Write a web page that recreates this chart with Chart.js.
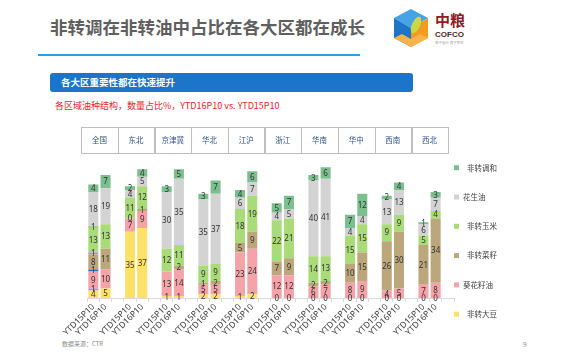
<!DOCTYPE html>
<html><head><meta charset="utf-8">
<script src="https://cdn.jsdelivr.net/npm/chart.js@4/dist/chart.umd.min.js"></script>
<style>
html,body{margin:0;padding:0;}
body{width:570px;height:360px;background:#fff;position:relative;overflow:hidden;font-family:"Noto Sans CJK SC","Noto Sans",sans-serif;}
.abs{position:absolute;white-space:nowrap;}
#title{left:50px;top:16px;font-size:17.5px;line-height:22px;font-weight:700;color:#5f5f5f;}
#rule{left:38px;top:54px;width:322px;height:2px;background:#2D9FD9;}
#banner{left:50px;top:73px;width:352px;height:19px;background:#1C75C8;border-radius:3px;color:#fff;font-weight:700;font-size:9.5px;line-height:19px;padding-left:11px;}
#sub{left:55px;top:99px;font-size:9px;line-height:14px;color:#E52326;}
#src{left:62px;top:340px;font-size:6px;line-height:8px;color:#8c8c8c;}
#pg{left:523px;top:340px;font-size:6.5px;line-height:8px;color:#8c8c8c;}
#zl{left:435px;top:11px;font-size:15px;line-height:18px;font-weight:700;color:#8C1D22;}
#cofco{left:435px;top:30px;font-size:8px;line-height:10px;font-weight:700;color:#4a2a2a;font-family:"Liberation Sans",sans-serif;}
#tag{left:435px;top:41px;font-size:3.5px;line-height:4px;color:#999;}
#logo{position:absolute;left:392px;top:8px;}
#wrap{position:absolute;left:0;top:0;width:570px;height:360px;}
</style></head><body>
<div id="title" class="abs">非转调在非转油中占比在各大区都在成长</div>
<div id="rule" class="abs"></div>
<svg id="logo" width="40" height="40" viewBox="0 0 40 40">
  <polygon points="19,1 36,10 19,20 2,10" fill="#46A3E6"/>
  <polygon points="2,10 19,20 19,39 2,30" fill="#1F74C6"/>
  <polygon points="36,10 36,30 19,39 19,20" fill="#F39A1F"/>
  <polygon points="19,39 2,30 10,26 19,31 28,26 36,30" fill="#F7B24A"/>
  <ellipse cx="24" cy="17" rx="4" ry="9" transform="rotate(25 24 17)" fill="#C9D844"/>
</svg>
<div id="zl" class="abs">中粮</div>
<div id="cofco" class="abs">COFCO</div>
<div id="tag" class="abs">忠于国计 良于民生</div>
<div id="banner" class="abs">各大区重要性都在快速提升</div>
<div id="sub" class="abs">各区域油种结构，数量占比%，YTD16P10 vs. YTD15P10</div>
<div id="src" class="abs">数据来源：CTR</div>
<div id="pg" class="abs">9</div>
<div id="wrap"><canvas id="c" width="570" height="360"></canvas></div>
<script>
// ---- data (per region: YTD15P10, YTD16P10) ----
const regions = ['全国','东北','京津冀','华北','江沪','浙江','华南','华中','西南','西北'];
const periods = ['YTD15P10','YTD16P10'];
const soybean   = [4,5, 35,37, 1,1, 2,2, 1,2, 0,0, 0,0, 0,0, 0,0, 0,0];
const sunflower = [9,10, 7,9, 13,14, 5,5, 23,24, 12,12, 6,7, 8,9, 4,5, 7,8];
const rapeseed  = [8,11, 0,1, null,2, 1,2, 5,9, 7,9, 2,2, 10,15, 26,30, 21,34];
const corn      = [13,13, 11,12, 12,11, 9,9, 18,19, 22,21, 14,13, 15,15, 9,9, 5,4];
const peanut    = [18,19, 4,5, 30,35, 35,37, 6,7, 4,5, 40,41, 4,4, 13,13, 6,7];
const blend     = [4,7, 2,4, 3,5, 3,7, 4,6, 5,7, 3,6, 7,12, 2,4, 1,3];
// small unlabelled segments seen only in 全国 YTD15P10
const otherA = [1,null, null,null, null,null, null,null, null,null, null,null, null,null, null,null, null,null, null,null];
const otherB = [1,null, null,null, null,null, null,null, null,null, null,null, null,null, null,null, null,null, null,null];
const otherC = [1,null, null,null, null,null, null,null, null,null, null,null, null,null, null,null, null,null, null,null];
const otherD = [1,null, null,null, null,null, null,null, null,null, null,null, null,null, null,null, null,null, null,null];

// expand to 3 slots per region (two bars + gap)
function expand(arr){const out=[];for(let i=0;i<regions.length;i++){out.push(arr[2*i],arr[2*i+1],null);}return out;}
const labels=[];regions.forEach(()=>{labels.push(periods[0],periods[1],'');});

const series=[
 {label:'非转大豆',data:soybean,color:'#FFE169'},
 {label:'',data:otherA,color:'#B68CD6',extra:true},
 {label:'葵花籽油',data:sunflower,color:'#F5A3A8'},
 {label:'',data:otherB,color:'#2F6FC0',extra:true},
 {label:'非转菜籽',data:rapeseed,color:'#BCA67C'},
 {label:'',data:otherC,color:'#B68CD6',extra:true},
 {label:'非转玉米',data:corn,color:'#A9DB78'},
 {label:'',data:otherD,color:'#9FD27A',extra:true},
 {label:'花生油',data:peanut,color:'#D3D3D3'},
 {label:'非转调和',data:blend,color:'#7CBF8E'}
];

const datasets=series.map(s=>({label:s.label,data:expand(s.data),backgroundColor:s.color,borderWidth:0,barPercentage:0.82,categoryPercentage:1,extra:!!s.extra}));

const labelPlugin={id:'vals',afterDatasetsDraw(chart){
  const ctx=chart.ctx;ctx.save();
  ctx.font='8px "Noto Sans","DejaVu Sans",sans-serif';ctx.fillStyle='#333';ctx.textAlign='center';ctx.textBaseline='middle';
  chart.data.datasets.forEach((ds,di)=>{
    const meta=chart.getDatasetMeta(di);
    meta.data.forEach((el,i)=>{
      const v=ds.data[i];if(v===null||v===undefined)return;
      ctx.fillText(String(v),el.x,(el.y+el.base)/2+0.5);
    });
  });
  ctx.restore();
}};

const headerPlugin={id:'hdr',afterDraw(chart){
  const ctx=chart.ctx;const x=chart.scales.x;
  const w=x.getPixelForValue(1)-x.getPixelForValue(0);
  const top=127,bot=153;
  ctx.save();
  ctx.strokeStyle='#BFBFBF';ctx.lineWidth=1;
  ctx.font='7.5px "Noto Sans CJK SC",sans-serif';ctx.fillStyle='#2F4F86';ctx.textAlign='center';ctx.textBaseline='middle';
  regions.forEach((r,i)=>{
    const l=x.getPixelForValue(3*i)-w, rr=x.getPixelForValue(3*i+2);
    ctx.strokeRect(Math.round(l)+0.5,top+0.5,Math.round(rr-l),bot-top);
    ctx.fillText(r,(l+rr)/2,(top+bot)/2);
  });
  // legend (top-to-bottom = reverse stack order)
  const items=series.filter(s=>!s.extra).slice().reverse();
  ctx.textAlign='left';ctx.fillStyle='#404040';ctx.font='7.5px "Noto Sans CJK SC",sans-serif';
  items.forEach((s,k)=>{
    const y=167.7+k*29.3;
    ctx.fillStyle=s.color;ctx.fillRect(454,y-2.5,5,5);
    ctx.fillStyle='#404040';
    const tx=(s.label==='花生油'||s.label==='葵花籽油')?463:467;
    ctx.fillText(s.label,tx,y);
  });
  ctx.restore();
}};

new Chart(document.getElementById('c'),{
  type:'bar',
  data:{labels:labels,datasets:datasets},
  options:{
    responsive:false,animation:false,
    layout:{padding:{left:87.2,right:116,top:156,bottom:20}},
    plugins:{legend:{display:false},tooltip:{enabled:false}},
    scales:{
      x:{stacked:true,
         grid:{display:true,drawOnChartArea:false,drawTicks:true,tickLength:4,color:'#D9D9D9'},
         border:{display:true,color:'#D9D9D9'},
         ticks:{autoSkip:false,maxRotation:45,minRotation:45,padding:0,color:'#404040',font:{size:8.5,family:'"Noto Sans","DejaVu Sans",sans-serif'}},
         afterFit(s){s.height=42;}
      },
      y:{stacked:true,display:false,min:0,max:75}
    }
  },
  plugins:[labelPlugin,headerPlugin]
});
</script>
</body></html>
